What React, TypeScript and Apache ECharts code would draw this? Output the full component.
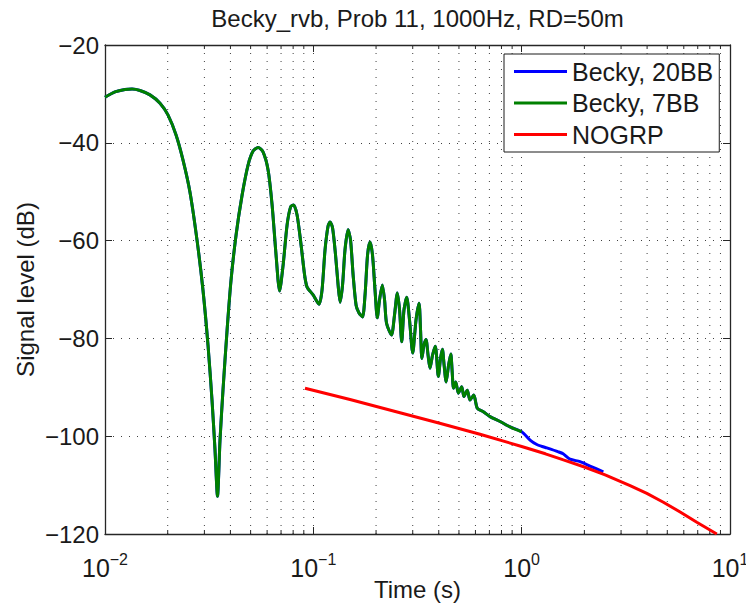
import React, { useEffect, useRef } from 'react';
import * as echarts from 'echarts';

const FONT = '"Liberation Sans", Arial, Helvetica, sans-serif';

// Becky, 7BB (green) – time in seconds, level in dB
const becky7Time = [
  0.0100, 0.01117, 0.01247, 0.01349, 0.01472, 0.01644, 0.01837, 0.02005, 0.02193, 0.02367,
  0.02558, 0.02765, 0.02953, 0.03121, 0.03263, 0.03373, 0.03467, 0.03565, 0.03684, 0.03855,
  0.04027, 0.04256, 0.04550, 0.04864, 0.05140, 0.05432, 0.05741, 0.06067, 0.06339, 0.06622,
  0.06886, 0.07161, 0.07482, 0.07780, 0.08041, 0.08359, 0.08733, 0.09078, 0.09333, 0.09977,
  0.1065, 0.1101, 0.1138, 0.1177, 0.1203, 0.1237, 0.1278, 0.1315, 0.1344, 0.1381,
  0.1419, 0.1468, 0.1509, 0.1552, 0.1604, 0.1657, 0.1722, 0.1771, 0.1821, 0.1871,
  0.1923, 0.1977, 0.2028, 0.2079, 0.2144, 0.2197, 0.2246, 0.2372, 0.2453, 0.2531,
  0.2594, 0.2656, 0.2723, 0.2806, 0.2895, 0.2999, 0.3111, 0.3217, 0.3271, 0.3319,
  0.3399, 0.3474, 0.3553, 0.3631, 0.3734, 0.3851, 0.3981, 0.4081, 0.4164, 0.4242,
  0.4340, 0.4461, 0.4570, 0.4634, 0.4710, 0.4827, 0.4970, 0.5155, 0.5285, 0.5482,
  0.5649, 0.5888, 0.6124, 0.6546, 0.7047, 0.7874, 0.8793, 1.0,
];
const becky7Level = [
  -30.7, -29.6, -29.1, -29.0, -29.3, -30.2, -31.9, -34.3, -38.4, -43.5,
  -50.1, -59.9, -70.1, -81.3, -92.6, -102.8, -112.3, -100.8, -90.6, -78.3,
  -68.1, -58.9, -50.7, -44.5, -41.7, -40.95, -41.9, -45.6, -52.7, -62.9,
  -70.3, -65.0, -56.8, -53.1, -52.7, -54.8, -60.9, -67.0, -69.5, -71.1,
  -73.0, -70.1, -61.9, -57.0, -56.2, -57.4, -62.9, -69.1, -72.6, -69.1,
  -61.9, -57.8, -59.9, -67.0, -73.2, -74.8, -75.6, -71.1, -62.9, -60.3,
  -62.9, -70.1, -75.8, -72.1, -69.1, -72.1, -76.9, -79.3, -75.2, -70.7,
  -74.2, -80.7, -74.2, -71.6, -76.2, -83.0, -76.2, -72.8, -78.3, -84.1,
  -81.3, -80.2, -83.4, -86.1, -83.4, -81.6, -87.8, -84.0, -82.2, -85.4,
  -88.9, -85.4, -83.2, -86.5, -90.2, -88.9, -91.2, -89.9, -91.9, -90.6,
  -92.6, -91.6, -94.3, -95.0, -96.0, -97.0, -98.1, -99.1,
];

// Becky, 20BB (blue) follows the 7BB curve up to 1 s, then continues
const becky20TailTime = [1.097, 1.182, 1.253, 1.320, 1.500, 1.581, 1.706, 1.906, 2.129, 2.466];
const becky20TailLevel = [-100.8, -101.7, -102.1, -102.4, -103.2, -103.6, -104.7, -105.2, -106.1, -107.3];

// NOGRP (red)
const nogrpTime = [
  0.0912, 0.15, 0.2606, 0.4, 0.631, 1.0, 1.3, 1.586, 2.0, 2.515,
  3.314, 3.988, 4.788, 5.763, 6.928, 8.643,
];
const nogrpLevel = [
  -90.2, -92.5, -95.2, -97.3, -99.6, -102.1, -103.6, -104.85, -106.3, -107.9,
  -110.1, -111.7, -113.5, -115.5, -117.6, -120.0,
];

// Axis settings
const timeMin = 0.01;
const timeMax = 10;
const levelMin = -120;
const levelMax = -20;
const levelStep = 20;
const minorGridTimes = [
  0.02, 0.03, 0.04, 0.05, 0.06, 0.07, 0.08, 0.09,
  0.2, 0.3, 0.4, 0.5, 0.6, 0.7, 0.8, 0.9,
  2, 3, 4, 5, 6, 7, 8, 9,
];

const seriesNames = ['Becky, 20BB', 'Becky, 7BB', 'NOGRP'];
const seriesColors = ['#0000ff', '#008000', '#ff0000'];

const zip = (xs: number[], ys: number[]) => xs.map((x, i) => [x, ys[i]]);

const AXIS_COLOR = '#262626';
const GRID_DASH = [1, 7];

export default function App() {
  const ref = useRef<HTMLDivElement>(null);

  useEffect(() => {
    if (!ref.current) return;
    const chart = echarts.init(ref.current, undefined, { renderer: 'svg' });

    const green = zip(becky7Time, becky7Level);
    const blue = green.concat(zip(becky20TailTime, becky20TailLevel));
    const red = zip(nogrpTime, nogrpLevel);

    // decade labels as 10 with a raised exponent
    const xLabel = (v: number) => {
      const e = Math.round(Math.log10(v));
      const s = e < 0 ? '\u2212' + -e : String(e);
      return `{b|10}{s|${s}}`;
    };

    const logAxisBase = {
      type: 'log' as const,
      logBase: 10,
      min: timeMin,
      max: timeMax,
      axisLine: { show: true, onZero: false, lineStyle: { color: AXIS_COLOR, width: 1.3 } },
      axisTick: { show: true, inside: true, length: 7, lineStyle: { color: AXIS_COLOR, width: 1 } },
    };
    const valAxisBase = {
      type: 'value' as const,
      min: levelMin,
      max: levelMax,
      interval: levelStep,
      axisLine: { show: true, onZero: false, lineStyle: { color: AXIS_COLOR, width: 1.3 } },
      axisTick: { show: true, inside: true, length: 7, lineStyle: { color: AXIS_COLOR, width: 1 } },
    };

    chart.setOption({
      animation: false,
      backgroundColor: '#ffffff',
      grid: {
        left: 105,
        right: 16,
        top: 45,
        bottom: 70,
        containLabel: false,
        outerBoundsMode: 'none',
      },
      graphic: [
        {
          type: 'text',
          x: 417.5,
          y: 18,
          style: {
            text: 'Becky_rvb, Prob 11, 1000Hz, RD=50m',
            font: `24px ${FONT}`,
            fill: '#1a1a1a',
            textAlign: 'center',
            textVerticalAlign: 'middle',
          },
        },
      ],
      legend: {
        left: 504,
        top: 54,
        orient: 'vertical',
        icon: 'rect',
        itemWidth: 53,
        itemHeight: 3,
        itemGap: 6.5,
        padding: [5, 6, 5, 10],
        backgroundColor: '#ffffff',
        borderColor: '#1a1a1a',
        borderWidth: 1,
        borderRadius: 0,
        textStyle: { fontFamily: FONT, fontSize: 25, color: '#1a1a1a', lineHeight: 24 },
        data: seriesNames,
      },
      xAxis: [
        {
          ...logAxisBase,
          position: 'bottom',
          name: 'Time (s)',
          nameLocation: 'middle',
          nameGap: 43,
          nameMoveOverlap: false,
          nameTextStyle: { fontFamily: FONT, fontSize: 24, color: '#1a1a1a', lineHeight: 24 },
          axisLabel: {
            show: true,
            margin: 17,
            formatter: xLabel,
            rich: {
              b: { fontFamily: FONT, fontSize: 25, color: '#1a1a1a', lineHeight: 34 },
              s: { fontFamily: FONT, fontSize: 16, color: '#1a1a1a', lineHeight: 1, verticalAlign: 'top' },
            },
          },
          splitLine: { show: true, lineStyle: { color: '#404040', width: 1, type: GRID_DASH } },
        },
        {
          ...logAxisBase,
          position: 'top',
          axisLabel: { show: false },
          splitLine: { show: false },
        },
      ],
      yAxis: [
        {
          ...valAxisBase,
          position: 'left',
          name: 'Signal level (dB)',
          nameLocation: 'middle',
          nameGap: 68,
          nameMoveOverlap: false,
          nameTextStyle: { fontFamily: FONT, fontSize: 24, color: '#1a1a1a', lineHeight: 24 },
          axisLabel: {
            show: true,
            margin: 6,
            fontFamily: FONT,
            fontSize: 24,
            color: '#1a1a1a',
            formatter: (v: number) => String(v).replace('-', '\u2212'),
          },
          splitLine: { show: true, lineStyle: { color: '#404040', width: 1, type: GRID_DASH } },
        },
        {
          ...valAxisBase,
          position: 'right',
          axisLabel: { show: false },
          splitLine: { show: false },
        },
      ],
      series: [
        {
          // dotted minor grid with short inside ticks at top and bottom
          type: 'custom',
          name: 'minor-grid',
          xAxisIndex: 0,
          yAxisIndex: 0,
          silent: true,
          z: 1,
          data: minorGridTimes.map((t) => [t, levelMin]),
          renderItem: (_params: any, api: any) => {
            const t = api.value(0);
            const top = api.coord([t, levelMax]);
            const bot = api.coord([t, levelMin]);
            return {
              type: 'group',
              children: [
                {
                  type: 'line',
                  shape: { x1: top[0], y1: top[1], x2: bot[0], y2: bot[1] },
                  style: { stroke: '#404040', lineWidth: 1, lineDash: GRID_DASH },
                },
                {
                  type: 'line',
                  shape: { x1: top[0], y1: top[1], x2: top[0], y2: top[1] + 4 },
                  style: { stroke: AXIS_COLOR, lineWidth: 1 },
                },
                {
                  type: 'line',
                  shape: { x1: bot[0], y1: bot[1], x2: bot[0], y2: bot[1] - 4 },
                  style: { stroke: AXIS_COLOR, lineWidth: 1 },
                },
              ],
            };
          },
        },
        {
          type: 'line',
          name: seriesNames[0],
          color: seriesColors[0],
          data: blue,
          showSymbol: false,
          symbol: 'none',
          smooth: 0.25,
          lineStyle: { width: 3, color: seriesColors[0] },
          z: 3,
        },
        {
          type: 'line',
          name: seriesNames[1],
          color: seriesColors[1],
          data: green,
          showSymbol: false,
          symbol: 'none',
          smooth: 0.25,
          lineStyle: { width: 3, color: seriesColors[1] },
          z: 3,
        },
        {
          type: 'line',
          name: seriesNames[2],
          color: seriesColors[2],
          data: red,
          showSymbol: false,
          symbol: 'none',
          smooth: false,
          lineStyle: { width: 3, color: seriesColors[2] },
          z: 3,
        },
      ],
    });

    return () => chart.dispose();
  }, []);

  return (
    <div
      ref={ref}
      style={{ position: 'fixed', left: 0, top: 0, width: 746, height: 604, background: '#fff' }}
    />
  );
}
